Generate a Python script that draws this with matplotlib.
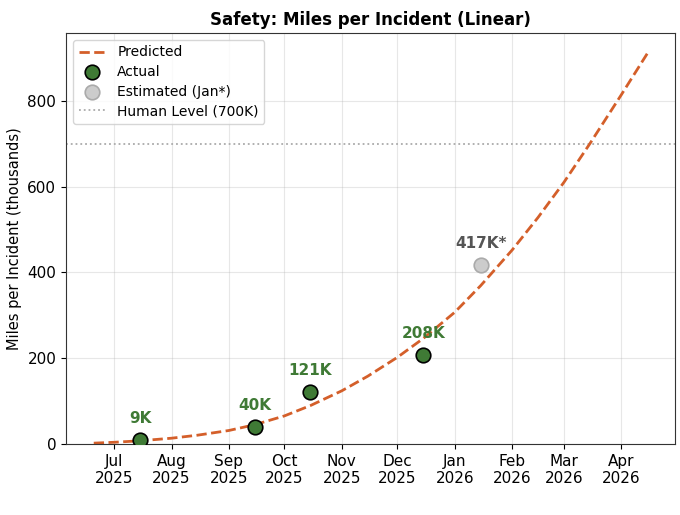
import numpy as np
import pandas as pd
import matplotlib
matplotlib.use("Agg")
import matplotlib.pyplot as plt
import matplotlib.dates as mdates

# predicted curve (thousands of miles)
pred_dates = ["2025-06-20", "2025-07-01", "2025-07-15", "2025-08-01", "2025-08-15",
              "2025-09-01", "2025-09-15", "2025-10-01", "2025-10-15", "2025-11-01",
              "2025-11-15", "2025-12-01", "2025-12-15", "2026-01-01", "2026-01-15",
              "2026-02-01", "2026-02-15", "2026-03-01", "2026-03-15", "2026-04-01",
              "2026-04-15"]
pred_vals = [2, 4, 7.5, 13.5, 20.5, 31.5, 45, 65.5, 89.5, 124, 158, 202, 246, 307, 369,
             452, 528, 610, 700, 814, 910]

actual_dates = ["2025-07-15", "2025-09-15", "2025-10-15", "2025-12-15"]
actual_vals = [9, 40, 121, 208]
actual_labels = ["9K", "40K", "121K", "208K"]

est_dates = ["2026-01-15"]
est_vals = [417]
est_labels = ["417K*"]

human_level = 700

orange = "#d45f2a"
green = "#3f7a35"

fig = plt.figure(figsize=(6.8, 5.15), dpi=100)
ax = fig.add_axes([66/680, 1-444/515, (675-66)/680, (444-33)/515])

pd_dates = pd.to_datetime(pred_dates)
ad = pd.to_datetime(actual_dates)
ed = pd.to_datetime(est_dates)

ax.plot(pd_dates, pred_vals, "--", color=orange, lw=2, label="Predicted", zorder=2)
ax.scatter(ad, actual_vals, s=110, color=green, edgecolor="black", lw=1.2, label="Actual", zorder=3)
ax.scatter(ed, est_vals, s=110, color="#cccccc", edgecolor="#aaaaaa", lw=1.2, label="Estimated (Jan*)", zorder=3)
ax.axhline(human_level, color="#aaaaaa", ls=":", lw=1.3, label="Human Level (700K)", zorder=1)

for d, v, t in zip(ad, actual_vals, actual_labels):
    ax.annotate(t, (d, v), xytext=(0, 10), textcoords="offset points", ha="center",
                va="bottom", fontsize=11, fontweight="bold", color=green)
for d, v, t in zip(ed, est_vals, est_labels):
    ax.annotate(t, (d, v), xytext=(0, 10), textcoords="offset points", ha="center",
                va="bottom", fontsize=11, fontweight="bold", color="#555555")

ax.set_xlim(pd.Timestamp("2025-06-05"), pd.Timestamp("2026-04-30"))
ax.set_ylim(0, 958)
ax.xaxis.set_major_locator(mdates.MonthLocator())
ax.xaxis.set_major_formatter(mdates.DateFormatter("%b\n%Y"))
ax.tick_params(labelsize=11)
ax.set_yticks([0, 200, 400, 600, 800])
ax.grid(True, alpha=0.3)
for s in ax.spines.values():
    s.set_color("#333333")

ax.set_ylabel("Miles per Incident (thousands)", fontsize=10.5)
ax.set_title("Safety: Miles per Incident (Linear)", fontsize=12, fontweight="bold")
ax.legend(loc="upper left", fontsize=10, labelspacing=0.4)

fig.savefig("out.png", dpi=100)
